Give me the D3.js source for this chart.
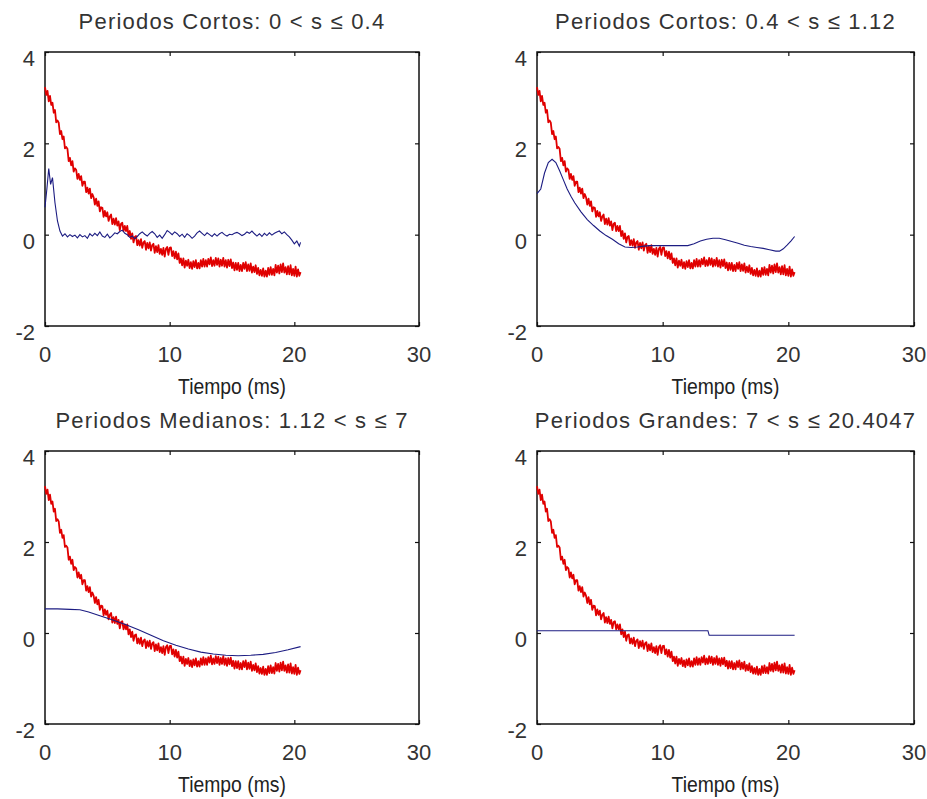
<!DOCTYPE html>
<html>
<head>
<meta charset="utf-8">
<script src="https://cdn.jsdelivr.net/npm/d3@7"></script>
<style>
  body { margin: 0; background: #fff; }
  text { font-family: "Liberation Sans", Arial, sans-serif; fill: #222; }
</style>
</head>
<body>
<div id="chart"></div>
<script>
// titles of the four subplots
var titles = [
    "Periodos Cortos: 0 < s \u2264 0.4",
    "Periodos Cortos: 0.4 < s \u2264 1.12",
    "Periodos Medianos: 1.12 < s \u2264 7",
    "Periodos Grandes: 7 < s \u2264 20.4047"
];
var xLabel = "Tiempo (ms)";
var xTicks = [0, 10, 20, 30];
var yTicks = [-2, 0, 2, 4];

// red signal, sampled every 0.1 ms from 0 to 20.5 ms (same in all panels)
var sampleStep = 0.1;
var redSignal = [
    3.23, 3.06, 3.15, 2.92, 3.04, 2.84, 2.89, 2.67, 2.73, 2.46,
    2.50, 2.45, 2.20, 2.27, 2.09, 2.15, 1.89, 1.92, 1.88, 1.61,
    1.68, 1.52, 1.61, 1.38, 1.45, 1.42, 1.22, 1.33, 1.20, 1.28,
    1.07, 1.16, 1.16, 0.93, 1.03, 0.90, 1.01, 0.80, 0.89, 0.82,
    0.66, 0.79, 0.63, 0.73, 0.51, 0.60, 0.59, 0.39, 0.52, 0.40,
    0.49, 0.30, 0.40, 0.44, 0.23, 0.35, 0.22, 0.36, 0.20, 0.29,
    0.10, 0.24, 0.26, 0.08, 0.19, 0.08, 0.19, -0.03, 0.08, -0.09,
    0.03, -0.17, -0.05, -0.03, -0.23, -0.12, -0.24, -0.10, -0.29, -0.17,
    -0.14, -0.33, -0.18, -0.30, -0.17, -0.35, -0.23, -0.20, -0.40, -0.25,
    -0.38, -0.23, -0.42, -0.31, -0.44, -0.29, -0.48, -0.31, -0.27, -0.44,
    -0.29, -0.28, -0.47, -0.36, -0.52, -0.37, -0.54, -0.41, -0.62, -0.52,
    -0.67, -0.52, -0.72, -0.57, -0.68, -0.55, -0.73, -0.60, -0.75, -0.58,
    -0.71, -0.56, -0.74, -0.62, -0.74, -0.56, -0.70, -0.53, -0.70, -0.56,
    -0.70, -0.53, -0.65, -0.50, -0.69, -0.56, -0.68, -0.51, -0.66, -0.52,
    -0.70, -0.55, -0.68, -0.51, -0.70, -0.56, -0.72, -0.55, -0.69, -0.54,
    -0.73, -0.61, -0.78, -0.62, -0.77, -0.62, -0.80, -0.66, -0.80, -0.62,
    -0.75, -0.60, -0.80, -0.65, -0.79, -0.63, -0.83, -0.70, -0.82, -0.67,
    -0.86, -0.73, -0.89, -0.77, -0.90, -0.74, -0.92, -0.79, -0.92, -0.73,
    -0.88, -0.71, -0.88, -0.75, -0.89, -0.66, -0.83, -0.68, -0.85, -0.65,
    -0.82, -0.63, -0.83, -0.71, -0.87, -0.69, -0.87, -0.67, -0.89, -0.75,
    -0.90, -0.70, -0.92, -0.76, -0.90, -0.82
];

// blue curves, [time (ms), value]
var blueCortos1 = [
    [0, 0.6], [0.15, 1.0], [0.3, 1.45], [0.45, 1.1], [0.6, 1.25], [0.8, 0.7], [1.0, 0.3], [1.2, 0.08],
    [1.4, -0.03], [1.6, 0.02], [1.8, -0.05], [2.0, 0.0], [2.2, -0.04], [2.4, -0.01], [2.6, -0.07], [2.8, 0.0],
    [3.0, -0.05], [3.2, -0.02], [3.4, -0.08], [3.6, 0.02], [3.8, -0.03], [4.0, 0.03], [4.2, -0.02], [4.4, 0.06],
    [4.6, -0.03], [4.8, -0.06], [5.0, 0.01], [5.2, -0.07], [5.4, -0.02], [5.6, 0.04], [5.8, 0.02], [6.0, 0.07],
    [6.2, 0.1], [6.4, 0.03], [6.6, 0.0], [6.8, -0.06], [7.0, -0.03], [7.2, -0.09], [7.4, -0.04], [7.6, 0.02],
    [7.8, 0.06], [8.0, 0.01], [8.2, -0.03], [8.4, 0.03], [8.6, 0.07], [8.8, 0.02], [9.0, -0.06], [9.2, -0.01],
    [9.4, -0.08], [9.6, 0.0], [9.8, 0.09], [10.0, 0.05], [10.2, 0.0], [10.4, 0.06], [10.6, 0.02], [10.8, -0.04],
    [11.0, 0.01], [11.2, -0.06], [11.4, 0.02], [11.6, -0.02], [11.8, -0.08], [12.0, -0.03], [12.2, 0.04], [12.4, 0.08],
    [12.6, 0.03], [12.8, -0.02], [13.0, 0.04], [13.2, 0.0], [13.4, -0.04], [13.6, 0.02], [13.8, -0.03], [14.0, 0.02],
    [14.2, 0.05], [14.4, 0.0], [14.6, -0.03], [14.8, 0.01], [15.0, 0.0], [15.2, 0.03], [15.4, 0.05], [15.6, 0.02],
    [15.8, -0.02], [16.0, 0.01], [16.2, 0.06], [16.4, 0.03], [16.6, 0.08], [16.8, 0.02], [17.0, -0.03], [17.2, 0.02],
    [17.4, -0.04], [17.6, 0.03], [17.8, -0.02], [18.0, 0.04], [18.2, -0.01], [18.4, 0.03], [18.6, 0.06], [18.8, 0.08],
    [19.0, 0.02], [19.2, 0.06], [19.4, 0.0], [19.6, -0.05], [19.8, -0.12], [20.0, -0.2], [20.2, -0.14], [20.4, -0.25],
    [20.5, -0.17]
];
var blueCortos2 = [
    [0, 0.9], [0.3, 1.0], [0.6, 1.35], [0.9, 1.58], [1.2, 1.65], [1.5, 1.58], [1.8, 1.4], [2.1, 1.2],
    [2.4, 1.0], [2.7, 0.84], [3.0, 0.7], [3.5, 0.5], [4.0, 0.33], [4.5, 0.2], [5.0, 0.08], [5.5, -0.02],
    [6.0, -0.1], [6.5, -0.2], [7.0, -0.27], [7.5, -0.28], [8.0, -0.27], [8.5, -0.25], [9.0, -0.24], [10, -0.24],
    [11, -0.24], [12, -0.24], [12.5, -0.2], [13, -0.14], [13.5, -0.1], [14, -0.08], [14.5, -0.08], [15, -0.11],
    [15.5, -0.15], [16, -0.19], [16.5, -0.23], [17, -0.26], [17.5, -0.28], [18, -0.3], [18.5, -0.33], [19, -0.36],
    [19.3, -0.36], [19.6, -0.31], [19.9, -0.23], [20.2, -0.14], [20.5, -0.04]
];
var blueMedianos = [
    [0, 0.53], [1, 0.53], [2, 0.52], [2.8, 0.51], [3.5, 0.46], [4.4, 0.38], [5.5, 0.28], [6.5, 0.18],
    [7.5, 0.07], [8.5, -0.05], [9.5, -0.17], [10.5, -0.27], [11.5, -0.35], [12.5, -0.42], [13.5, -0.46],
    [14.5, -0.49], [15.5, -0.5], [16.5, -0.49], [17.5, -0.47], [18.5, -0.43], [19.5, -0.37], [20.5, -0.3]
];
var blueGrandes = [
    [0, 0.05], [13.6, 0.05], [13.7, -0.05], [20.5, -0.05]
];
var blueSeries = [blueCortos1, blueCortos2, blueMedianos, blueGrandes];

function init() {
    var w = 927;
    var h = 799;

    // subplot boxes: left, top, width, height
    var boxes = [
        [45, 52, 374, 274],
        [537, 52, 377, 274],
        [45, 451, 374, 273],
        [537, 451, 377, 273]
    ];

    var svg = d3.select("#chart")
            .append("svg")
            .attr("width", w)
            .attr("height", h);

    var redPoints = redSignal.map(function(v, i) { return [i * sampleStep, v]; });

    boxes.forEach(function(b, k) {
        var x = d3.scaleLinear().domain([0, 30]).range([0, b[2]]);
        var y = d3.scaleLinear().domain([-2, 4]).range([b[3], 0]);

        var line = d3.line()
                .x(function(d) { return x(d[0]); })
                .y(function(d) { return y(d[1]); });

        var g = svg.append("g")
                .attr("transform", "translate(" + b[0] + "," + b[1] + ")");

        //inward ticks on all four sides, no labels from the axis itself
        var tick = 4;
        g.append("g").attr("transform", "translate(0," + b[3] + ")")
            .call(d3.axisBottom(x).tickValues(xTicks).tickSize(-tick).tickFormat(""));
        g.append("g")
            .call(d3.axisTop(x).tickValues(xTicks).tickSize(-tick).tickFormat(""));
        g.append("g")
            .call(d3.axisLeft(y).tickValues(yTicks).tickSize(-tick).tickFormat(""));
        g.append("g").attr("transform", "translate(" + b[2] + ",0)")
            .call(d3.axisRight(y).tickValues(yTicks).tickSize(-tick).tickFormat(""));
        g.selectAll(".domain").remove();
        g.selectAll(".tick line").attr("stroke", "#111").attr("stroke-width", 1.2);

        //box
        g.append("rect")
            .attr("width", b[2])
            .attr("height", b[3])
            .attr("fill", "none")
            .attr("stroke", "#111")
            .attr("stroke-width", 1.5);

        //tick labels
        g.selectAll(".xl")
            .data(xTicks)
            .enter()
            .append("text")
            .attr("x", function(d) { return x(d); })
            .attr("y", b[3] + 36)
            .attr("text-anchor", "middle")
            .style("font-size", "22px")
            .style("fill", "#333")
            .text(function(d) { return d; });

        g.selectAll(".yl")
            .data(yTicks)
            .enter()
            .append("text")
            .attr("x", -10)
            .attr("y", function(d) { return y(d) + 14; })
            .attr("text-anchor", "end")
            .style("font-size", "22px")
            .style("fill", "#333")
            .text(function(d) { return d; });

        //title and x label
        g.append("text")
            .attr("x", b[2] / 2)
            .attr("y", -23)
            .attr("text-anchor", "middle")
            .style("font-size", "22px")
            .style("letter-spacing", "1.2px")
            .style("fill", "#333")
            .text(titles[k]);

        //narrow looking label: squeeze horizontally
        g.append("text")
            .attr("transform", "translate(" + (b[2] / 2) + "," + (b[3] + 68) + ") scale(0.88,1)")
            .attr("text-anchor", "middle")
            .style("font-size", "22px")
            .text(xLabel);

        //red signal then blue component
        g.append("path")
            .datum(redPoints)
            .attr("d", line)
            .attr("fill", "none")
            .attr("stroke", "#e00000")
            .attr("stroke-width", 1.8)
            .attr("stroke-linejoin", "round");

        g.append("path")
            .datum(blueSeries[k])
            .attr("d", line)
            .attr("fill", "none")
            .attr("stroke", "#1c1c82")
            .attr("stroke-width", 1.1);
    });
}

window.onload = init;
</script>
</body>
</html>
